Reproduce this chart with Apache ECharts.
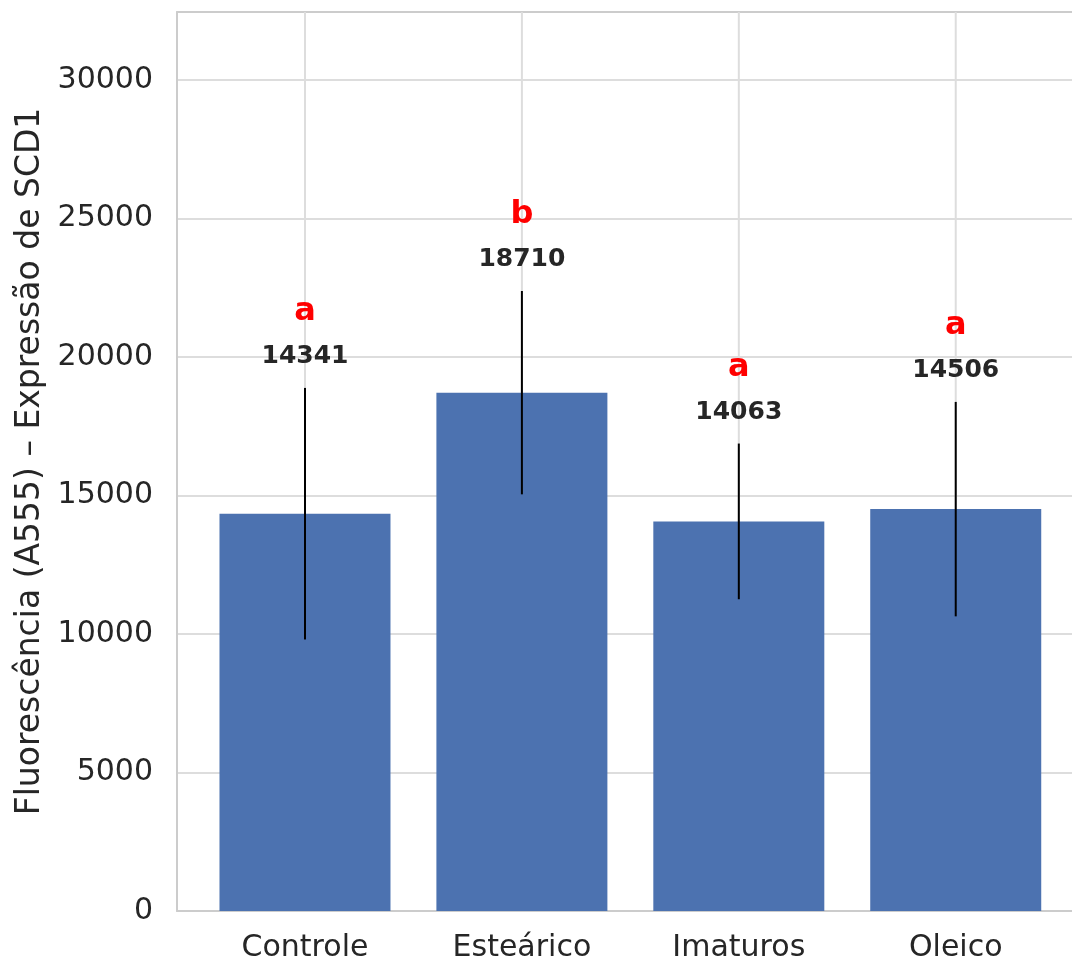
<!DOCTYPE html>
<html>
<head>
<meta charset="utf-8">
<script src="https://cdn.jsdelivr.net/npm/echarts@6/dist/echarts.min.js"></script>
<style>
  html, body { margin: 0; padding: 0; background: #fff; }
  #chart { width: 1072px; height: 959px; }
</style>
</head>
<body>
<div id="chart"></div>
<script>
// dados
var categories = ['Controle', 'Esteárico', 'Imaturos', 'Oleico'];
var means = [14341, 18710, 14063, 14506];
var errors = [4540, 3670, 2810, 3870];
var letters = ['a', 'b', 'a', 'a'];
var yTicks = [0, 5000, 10000, 15000, 20000, 25000, 30000];

var textColor = '#262626';
var font = 'DejaVu Sans';

var chart = echarts.init(document.getElementById('chart'));

var barData = means.map(function (v, i) { return [i, v]; });
var errData = means.map(function (v, i) { return [i, v - errors[i], v + errors[i]]; });
var gridData = categories.map(function (c, i) { return [i]; });

var option = {
  backgroundColor: '#ffffff',
  animation: false,
  grid: {
    left: 177,
    top: 12,
    right: 0,
    bottom: 48,
    outerBoundsMode: 'none',
    containLabel: false
  },
  xAxis: [{
    type: 'value',
    min: -0.59,
    max: 3.536,
    splitLine: { show: false },
    axisLine: { show: true, onZero: false, lineStyle: { color: '#cccccc', width: 2 } },
    axisTick: { show: false },
    axisLabel: {
      customValues: [0, 1, 2, 3],
      formatter: function (v) { return categories[Math.round(v)]; },
      color: textColor,
      fontFamily: font,
      fontSize: 30,
      margin: 22
    }
  }, {
    type: 'value',
    position: 'top',
    min: -0.59,
    max: 3.536,
    splitLine: { show: false },
    axisLine: { show: true, onZero: false, lineStyle: { color: '#cccccc', width: 2 } },
    axisTick: { show: false },
    axisLabel: { show: false }
  }],
  yAxis: {
    type: 'value',
    min: 0,
    max: 32450,
    interval: 5000,
    name: 'Fluorescência (A555) – Expressão de SCD1',
    nameLocation: 'middle',
    nameGap: 130,
    nameTextStyle: { color: textColor, fontFamily: font, fontSize: 33 },
    axisLine: { show: true, onZero: false, lineStyle: { color: '#cccccc', width: 2 } },
    axisTick: { show: false },
    splitLine: { lineStyle: { color: '#dddddd', width: 2 } },
    axisLabel: {
      color: textColor,
      fontFamily: font,
      fontSize: 30,
      margin: 24,
      formatter: function (v) { return yTicks.indexOf(v) >= 0 ? String(v) : ''; }
    }
  },
  series: [
    {
      // linhas verticais da grade
      type: 'custom',
      z: 1,
      silent: true,
      data: gridData,
      renderItem: function (params, api) {
        var p0 = api.coord([api.value(0), 0]);
        var p1 = api.coord([api.value(0), 32450]);
        return {
          type: 'line',
          shape: { x1: p0[0], y1: p0[1], x2: p1[0], y2: p1[1] },
          style: { stroke: '#dddddd', lineWidth: 2 }
        };
      }
    },
    {
      type: 'bar',
      z: 2,
      data: barData,
      barWidth: 171,
      itemStyle: { color: '#4c72b0' }
    },
    {
      // barras de erro + rótulos
      type: 'custom',
      z: 3,
      silent: true,
      data: errData,
      renderItem: function (params, api) {
        var i = api.value(0);
        var lo = api.coord([i, api.value(1)]);
        var hi = api.coord([i, api.value(2)]);
        return {
          type: 'group',
          children: [
            {
              type: 'line',
              shape: { x1: lo[0], y1: lo[1], x2: hi[0], y2: hi[1] },
              style: { stroke: '#000000', lineWidth: 2 }
            },
            {
              type: 'text',
              style: {
                text: String(means[params.dataIndex]),
                x: hi[0], y: hi[1] - 31,
                align: 'center', verticalAlign: 'middle',
                fill: textColor,
                font: 'bold 25px "DejaVu Sans"'
              }
            },
            {
              type: 'text',
              style: {
                text: letters[params.dataIndex],
                x: hi[0], y: hi[1] - 76,
                align: 'center', verticalAlign: 'middle',
                fill: '#ff0000',
                font: 'bold 32px "DejaVu Sans"'
              }
            }
          ]
        };
      }
    }
  ]
};

chart.setOption(option);
</script>
</body>
</html>
